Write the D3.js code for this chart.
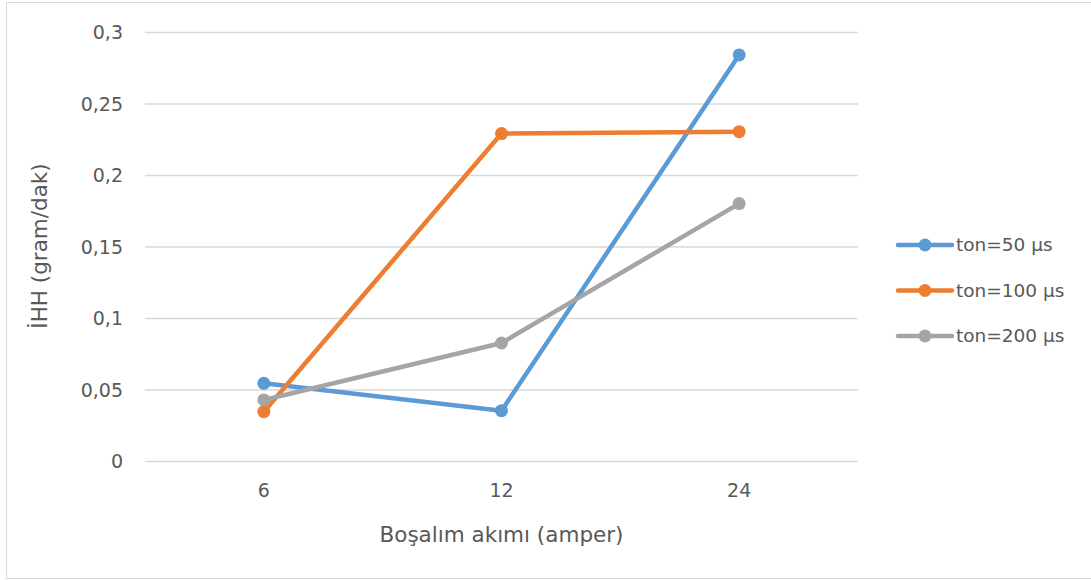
<!DOCTYPE html>
<html>
<head>
<meta charset="utf-8">
<script src="https://cdn.jsdelivr.net/npm/d3@7"></script>
<style>
  body { margin: 0; background: #fff; }
  text { font-family: "DejaVu Sans", sans-serif; fill: #595959; }
</style>
</head>
<body>
<script>
// chart data
var categories = ["6", "12", "24"];
var seriesNames = ["ton=50 µs", "ton=100 µs", "ton=200 µs"];
var ton50 = [0.0543, 0.0352, 0.284];
var ton100 = [0.0345, 0.229, 0.2303];
var ton200 = [0.0427, 0.0825, 0.180];
var yTicks = [0, 0.05, 0.1, 0.15, 0.2, 0.25, 0.3];
var colors = ["#5B9BD5", "#ED7D31", "#A5A5A5"];

var width = 1091, height = 580;
var margin = {top: 32, right: 233, bottom: 119, left: 145};

var svg = d3.select("body").append("svg")
  .attr("width", width)
  .attr("height", height);

// outer frame
svg.append("rect")
  .attr("x", 6.5).attr("y", 2.5)
  .attr("width", 1100).attr("height", 576)
  .attr("fill", "none")
  .attr("stroke", "#d9d9d9");

var xScale = d3.scaleBand()
  .domain(categories)
  .range([margin.left, width - margin.right]);

var yScale = d3.scaleLinear()
  .domain([0, 0.3])
  .range([height - margin.bottom, margin.top]);

var fmt = function(d){ return String(d).replace(".", ","); };

// gridlines + y labels
var yAxis = svg.append("g")
  .attr("transform", "translate(" + margin.left + ",0)")
  .call(d3.axisLeft(yScale).tickValues(yTicks).tickSize(-(width - margin.left - margin.right)).tickPadding(22).tickFormat(fmt));
yAxis.select(".domain").remove();
yAxis.selectAll("line").attr("stroke", "#d9d9d9").attr("stroke-width", 1.3);
yAxis.selectAll("text").style("font-size", "19px").attr("fill", "#595959").attr("dy", "0.35em");

// x labels
var xAxis = svg.append("g")
  .attr("transform", "translate(0," + (height - margin.bottom) + ")")
  .call(d3.axisBottom(xScale).tickSize(0).tickPadding(23));
xAxis.select(".domain").remove();
xAxis.selectAll("text").style("font-size", "19px").attr("fill", "#595959");

// axis titles
svg.append("text")
  .attr("x", xScale("12") + xScale.bandwidth() / 2)
  .attr("y", 542)
  .attr("text-anchor", "middle")
  .style("font-size", "21.5px")
  .text("Boşalım akımı (amper)");

svg.append("text")
  .attr("transform", "translate(47,246) rotate(-90)")
  .attr("text-anchor", "middle")
  .style("font-size", "21.5px")
  .text("İHH (gram/dak)");

var series = [ton50, ton100, ton200];
var line = d3.line()
  .x(function(d, i){ return xScale(categories[i]) + xScale.bandwidth() / 2; })
  .y(function(d){ return yScale(d); });

series.forEach(function(vals, s){
  var g = svg.append("g");
  g.append("path")
    .attr("d", line(vals))
    .attr("fill", "none")
    .attr("stroke", colors[s])
    .attr("stroke-width", 4.5)
    .attr("stroke-linejoin", "round");
  g.selectAll("circle")
    .data(vals)
    .enter().append("circle")
    .attr("cx", function(d, i){ return xScale(categories[i]) + xScale.bandwidth() / 2; })
    .attr("cy", function(d){ return yScale(d); })
    .attr("r", 6.5)
    .attr("fill", colors[s]);
});

// legend
var legend = svg.append("g").attr("transform", "translate(898,245)");
var rows = legend.selectAll("g")
  .data(seriesNames)
  .enter().append("g")
  .attr("transform", function(d, i){ return "translate(0," + (i * 45.5) + ")"; });
rows.append("line")
  .attr("x1", 0).attr("x2", 54)
  .attr("stroke", function(d, i){ return colors[i]; })
  .attr("stroke-width", 4.5)
  .attr("stroke-linecap", "round");
rows.append("circle")
  .attr("cx", 27).attr("r", 6.5)
  .attr("fill", function(d, i){ return colors[i]; });
rows.append("text")
  .attr("x", 58).attr("dy", "0.35em")
  .style("font-size", "18.5px")
  .text(function(d){ return d; });
</script>
</body>
</html>
